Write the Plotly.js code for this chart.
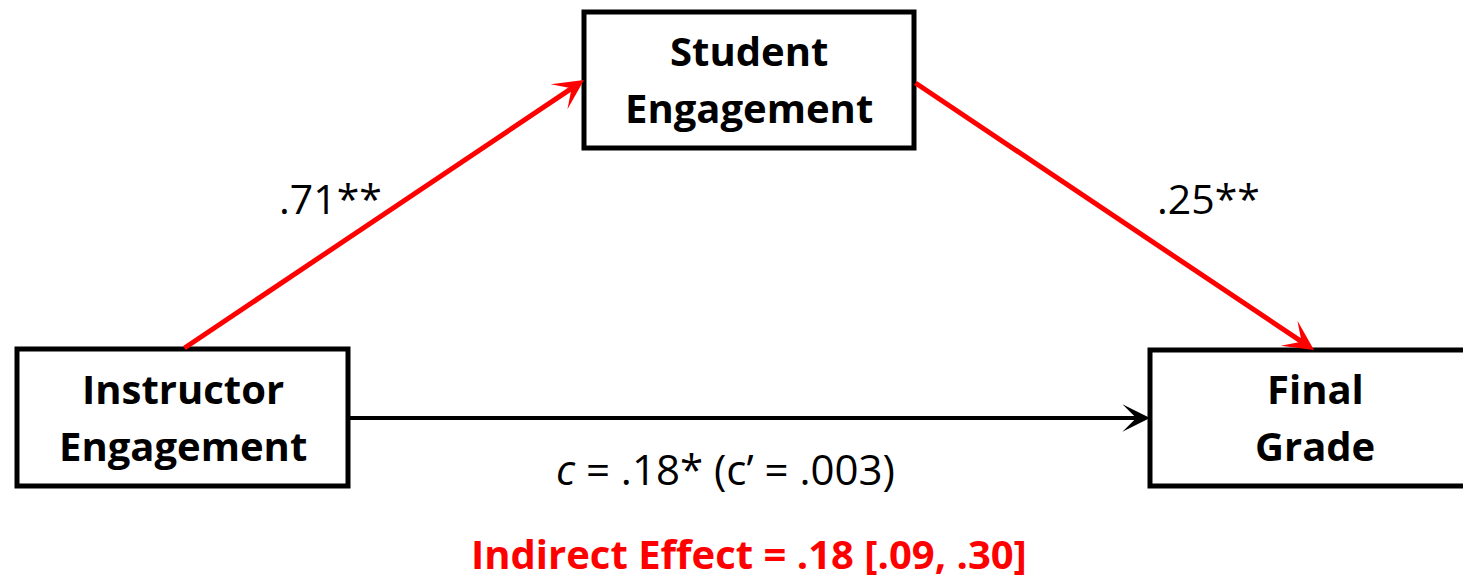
<!DOCTYPE html>
<html>
<head>
<meta charset="utf-8">
<script src="https://cdn.plot.ly/plotly-3.0.1.min.js"></script>
<style>html,body{margin:0;padding:0;background:#fff;}#chart{width:1463px;height:580px;}</style>
</head>
<body>
<div id="chart"></div>
<script>
// ---- diagram content ----
const nodeNames = [['Instructor', 'Engagement'], ['Student', 'Engagement'], ['Final', 'Grade']];
const pathA = '.71**';
const pathB = '.25**';
const pathC = '<i>c</i> = .18* (c’ = .003)';
const indirectEffect = 'Indirect Effect = .18 [.09, .30]';

// ---- layout geometry (pixel space of the 1463x580 canvas) ----
const boxes = [
  {x0: 17, x1: 348, y0: 349, y1: 486},   // Instructor
  {x0: 584, x1: 914, y0: 12, y1: 148},   // Student
  {x0: 1150, x1: 1482, y0: 350, y1: 486} // Final
];
const red = '#ff0000';
const fontFam = '"Open Sans", Arial, sans-serif';

const shapes = boxes.map(b => ({
  type: 'rect', xref: 'x', yref: 'y', x0: b.x0, x1: b.x1, y0: b.y0, y1: b.y1,
  line: {color: '#000', width: 5}, fillcolor: '#fff', layer: 'below'
}));

const annotations = [];
boxes.forEach((b, i) => {
  const cx = i === 2 ? 1315 : (b.x0 + b.x1) / 2;
  const cy = (b.y0 + b.y1) / 2 - 1;
  nodeNames[i].forEach((line, j) => {
    annotations.push({
      xref: 'x', yref: 'y', x: cx, y: cy + (j === 0 ? -28.5 : 28.5),
      text: '<b>' + line + '</b>', showarrow: false,
      font: {family: fontFam, size: 40, color: '#000'}, align: 'center',
      xanchor: 'center', yanchor: 'middle'
    });
  });
});
// arrows
annotations.push({xref: 'x', yref: 'y', axref: 'x', ayref: 'y', x: 584, y: 80, ax: 183, ay: 349,
  text: '', showarrow: true, arrowhead: 3, arrowsize: 1, arrowwidth: 5, arrowcolor: red});
annotations.push({xref: 'x', yref: 'y', axref: 'x', ayref: 'y', x: 1314, y: 350, ax: 914, ay: 82,
  text: '', showarrow: true, arrowhead: 3, arrowsize: 1, arrowwidth: 5, arrowcolor: red});
annotations.push({xref: 'x', yref: 'y', axref: 'x', ayref: 'y', x: 1150, y: 418, ax: 348, ay: 418,
  text: '', showarrow: true, arrowhead: 3, arrowsize: 1.15, arrowwidth: 4, arrowcolor: '#000'});
// path labels
annotations.push({xref: 'x', yref: 'y', x: 330, y: 198, text: pathA, showarrow: false,
  font: {family: fontFam, size: 41, color: '#000'}, xanchor: 'center', yanchor: 'middle'});
annotations.push({xref: 'x', yref: 'y', x: 1208, y: 198, text: pathB, showarrow: false,
  font: {family: fontFam, size: 41, color: '#000'}, xanchor: 'center', yanchor: 'middle'});
annotations.push({xref: 'x', yref: 'y', x: 725, y: 468, text: pathC, showarrow: false,
  font: {family: fontFam, size: 42, color: '#000'}, xanchor: 'center', yanchor: 'middle'});
annotations.push({xref: 'x', yref: 'y', x: 749, y: 553, text: '<b>' + indirectEffect + '</b>', showarrow: false,
  font: {family: fontFam, size: 40, color: red}, xanchor: 'center', yanchor: 'middle', borderpad: 0});

const layout = {
  width: 1463, height: 580,
  margin: {l: 0, r: 0, t: 0, b: 0, pad: 0},
  paper_bgcolor: '#fff', plot_bgcolor: '#fff',
  showlegend: false,
  xaxis: {range: [0, 1463], visible: false, fixedrange: true},
  yaxis: {range: [580, 0], visible: false, fixedrange: true},
  shapes: shapes,
  annotations: annotations
};

Plotly.newPlot('chart', [{x: [], y: [], type: 'scatter', mode: 'markers', hoverinfo: 'skip'}], layout,
  {staticPlot: true, displayModeBar: false});
</script>
</body>
</html>
